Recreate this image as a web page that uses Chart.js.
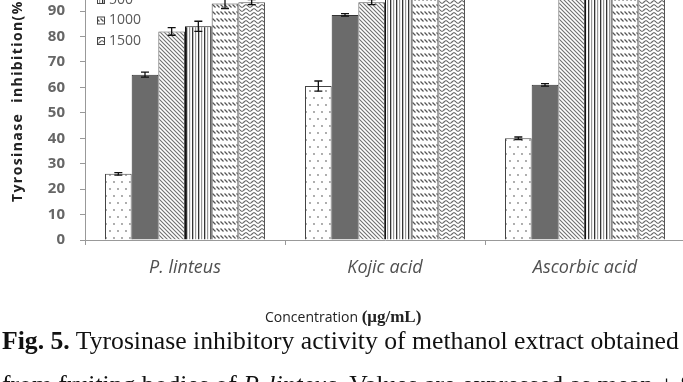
<!DOCTYPE html>
<html>
<head>
<meta charset="utf-8">
<title>Tyrosinase inhibition</title>
<script src="https://cdn.jsdelivr.net/npm/chart.js"></script>
<style>
  html, body { margin: 0; padding: 0; background: #fff; }
  #frame { position: relative; width: 683px; height: 382px; overflow: hidden; background: #fff; }
  #plot { position: absolute; left: 0; top: -60px; width: 700px; height: 390px; }
  #caption {
    position: absolute; left: 2px; top: 319px; white-space: nowrap;
    font-family: "Liberation Serif", serif; font-size: 25.7px; line-height: 44px; color: #111;
  }
</style>
</head>
<body>
<div id="frame">
  <div id="plot"><canvas id="myChart"></canvas></div>
  <div id="caption"><b>Fig. 5.</b> Tyrosinase inhibitory activity of methanol extract obtained<br>from fruiting bodies of <i>P. linteus</i>. Values are expressed as mean ± SD.</div>
</div>
<script>
  // data (top of the plot is cropped in the original)
  const categories = ["P. linteus", "Kojic acid", "Ascorbic acid"];
  const concentrations = ["50", "100", "250", "500", "1000", "1500"];

  const c50 = [26, 60.5, 40];
  const c100 = [65, 88.5, 61];
  const c250 = [82, 93.5, 97];
  const c500 = [84, 97, 97.5];
  const c1000 = [93, 97.5, 98];
  const c1500 = [93.5, 98, 98];

  const err50 = [0.5, 2, 0.5];
  const err100 = [1, 0.5, 0.5];
  const err250 = [1.5, 1, 1];
  const err500 = [2, 1, 1];
  const err1000 = [2, 1, 1];
  const err1500 = [1, 1, 1];

  const yTicks = { min: 0, max: 108.5, step: 10 };

  function makePattern(kind) {
    const t = document.createElement("canvas");
    const g = t.getContext("2d");
    if (kind === "dots") {
      t.width = 8; t.height = 14;
      g.fillStyle = "#fff"; g.fillRect(0, 0, 8, 14);
      g.fillStyle = "#888";
      g.beginPath(); g.arc(2, 4, 0.9, 0, Math.PI * 2); g.fill();
      g.beginPath(); g.arc(6, 11, 0.9, 0, Math.PI * 2); g.fill();
    } else if (kind === "hatch") {
      t.width = 4; t.height = 4;
      g.fillStyle = "#fff"; g.fillRect(0, 0, 4, 4);
      g.strokeStyle = "#707070"; g.lineWidth = 1.1;
      g.beginPath();
      g.moveTo(-1, -1); g.lineTo(5, 5);
      g.moveTo(-1, 3); g.lineTo(1, 5);
      g.moveTo(3, -1); g.lineTo(5, 1);
      g.stroke();
    } else if (kind === "vertical") {
      t.width = 6; t.height = 2;
      g.fillStyle = "#fff"; g.fillRect(0, 0, 6, 2);
      g.fillStyle = "#333"; g.fillRect(0, 0, 1.3, 2);
      g.fillStyle = "#999"; g.fillRect(3, 0, 1.2, 2);
    } else if (kind === "dashes") {
      t.width = 4; t.height = 7;
      g.fillStyle = "#fff"; g.fillRect(0, 0, 4, 7);
      g.strokeStyle = "#555"; g.lineWidth = 1.2;
      g.beginPath(); g.moveTo(0.5, 1.5); g.lineTo(3.5, 4.5); g.stroke();
    } else if (kind === "wave") {
      t.width = 8; t.height = 4;
      g.fillStyle = "#fff"; g.fillRect(0, 0, 8, 4);
      g.strokeStyle = "#666"; g.lineWidth = 1.1;
      for (const off of [-4, 0, 4]) {
        g.beginPath();
        for (let x = 0; x <= 8; x += 0.5) {
          const y = 2 + off + 1.3 * Math.sin((2 * Math.PI * x) / 8);
          if (x === 0) g.moveTo(x, y); else g.lineTo(x, y);
        }
        g.stroke();
      }
    }
    return g.createPattern(t, "repeat");
  }

  const fills = [
    makePattern("dots"),
    "#6b6b6b",
    makePattern("hatch"),
    makePattern("vertical"),
    makePattern("dashes"),
    makePattern("wave"),
  ];
  const borders = ["#444", "#333", "#555", "#111", "#444", "#555"];
  const series = [c50, c100, c250, c500, c1000, c1500];
  const errors = [err50, err100, err250, err500, err1000, err1500];

  const datasets = series.map((vals, i) => ({
    label: concentrations[i],
    data: vals,
    errors: errors[i],
    backgroundColor: fills[i],
    borderColor: borders[i],
    borderWidth: 1,
  }));

  const errorBars = {
    id: "errorBars",
    afterDatasetsDraw(chart) {
      const { ctx } = chart;
      const y = chart.scales.y;
      ctx.save();
      ctx.strokeStyle = "#111";
      ctx.lineWidth = 1.3;
      chart.data.datasets.forEach((ds, i) => {
        chart.getDatasetMeta(i).data.forEach((bar, j) => {
          const v = ds.data[j];
          const e = ds.errors[j];
          const top = y.getPixelForValue(v + e);
          const bot = y.getPixelForValue(v - e);
          ctx.beginPath();
          ctx.moveTo(bar.x, top); ctx.lineTo(bar.x, bot);
          ctx.moveTo(bar.x - 4, top); ctx.lineTo(bar.x + 4, top);
          ctx.moveTo(bar.x - 4, bot); ctx.lineTo(bar.x + 4, bot);
          ctx.stroke();
        });
      });
      ctx.restore();
    },
  };

  // legend sits inside the plot, upper left
  const innerLegend = {
    id: "innerLegend",
    afterDraw(chart) {
      const { ctx, chartArea } = chart;
      const n = chart.data.datasets.length;
      ctx.save();
      ctx.font = "14px 'Open Sans'";
      ctx.textBaseline = "middle";
      chart.data.datasets.forEach((ds, i) => {
        const cy = chartArea.bottom - 199 - (n - 1 - i) * 20.5;
        const x = chartArea.left + 12;
        ctx.fillStyle = ds.backgroundColor;
        ctx.fillRect(x, cy - 4, 8, 8);
        ctx.strokeStyle = "#444";
        ctx.lineWidth = 1;
        ctx.strokeRect(x + 0.5, cy - 3.5, 7, 7);
        ctx.fillStyle = "#595959";
        ctx.fillText(ds.label, x + 12, cy);
      });
      ctx.restore();
    },
  };

  const axisTitles = {
    id: "axisTitles",
    afterDraw(chart) {
      const { ctx } = chart;
      ctx.save();
      ctx.fillStyle = "#222";
      ctx.textBaseline = "middle";
      // y title
      ctx.save();
      ctx.translate(18, 262);
      ctx.rotate(-Math.PI / 2);
      ctx.textAlign = "left";
      ctx.font = "bold 14px 'Open Sans'";
      ctx.letterSpacing = "1.4px";
      ctx.fillText("Tyrosinase  inhibition(%)", 0, 0);
      ctx.restore();
      // x title
      ctx.textAlign = "left";
      ctx.font = "14px 'Open Sans'";
      const part1 = "Concentration ";
      ctx.fillText(part1, 265, 378);
      const w = ctx.measureText(part1).width;
      ctx.font = "bold 17px 'Liberation Serif'";
      ctx.fillText("(\u03bcg/mL)", 265 + w, 378);
      ctx.restore();
    },
  };

  const config = {
    type: "bar",
    data: { labels: categories, datasets: datasets },
    options: {
      responsive: true,
      maintainAspectRatio: false,
      animation: false,
      layout: { padding: { top: 8, right: 15, left: 0, bottom: 0 } },
      datasets: { bar: { categoryPercentage: 0.8, barPercentage: 1.0 } },
      plugins: {
        legend: { display: false },
        tooltip: { enabled: false },
      },
      scales: {
        x: {
          grid: { drawOnChartArea: false, tickLength: 5, color: "#999" },
          border: { color: "#999" },
          ticks: {
            color: "#505050",
            padding: 12,
            font: { family: "Open Sans", size: 18, style: "italic" },
          },
          afterFit: (s) => { s.height = 90; },
        },
        y: {
          min: yTicks.min,
          max: yTicks.max,
          grid: { drawOnChartArea: false, tickLength: 5, color: "#999" },
          border: { color: "#999" },
          ticks: {
            stepSize: yTicks.step,
            color: "#666",
            padding: 15,
            font: { family: "Open Sans", size: 15, weight: "bold" },
          },
          afterFit: (s) => { s.width = 85; },
        },
      },
    },
    plugins: [errorBars, innerLegend, axisTitles],
  };

  var myChart = new Chart(document.getElementById("myChart"), config);
</script>
</body>
</html>
